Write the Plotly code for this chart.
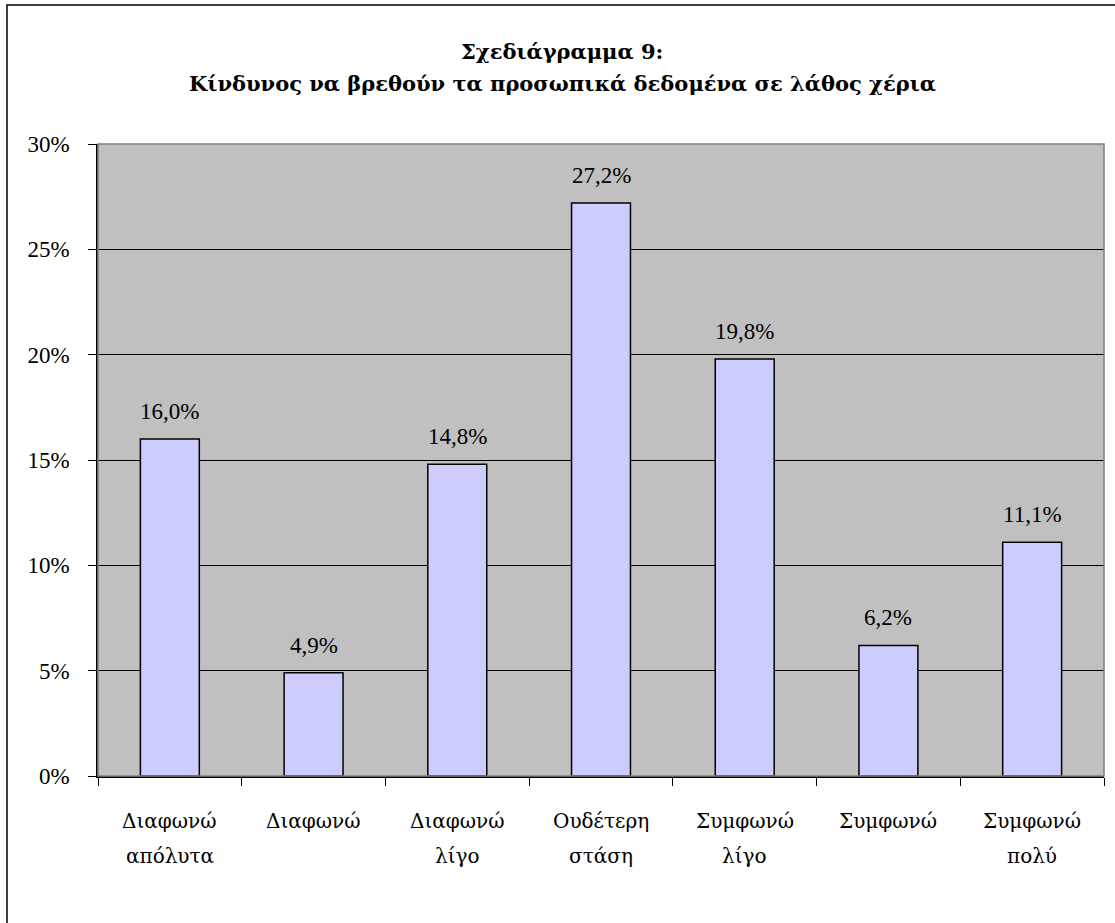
import plotly.graph_objects as go

# Survey responses (two-line labels) and their shares (%)
label_line1 = ["Διαφωνώ", "Διαφωνώ", "Διαφωνώ", "Ουδέτερη", "Συμφωνώ", "Συμφωνώ", "Συμφωνώ"]
label_line2 = ["απόλυτα", "", "λίγο", "στάση", "λίγο", "", "πολύ"]
values = [16.0, 4.9, 14.8, 27.2, 19.8, 6.2, 11.1]
y_ticks = [0, 5, 10, 15, 20, 25, 30]
y_tick_labels = ["0%", "5%", "10%", "15%", "20%", "25%", "30%"]
title_lines = ["Σχεδιάγραμμα 9:", "Κίνδυνος να βρεθούν τα προσωπικά δεδομένα σε λάθος χέρια"]

categories = [f"{a} {b}".strip() for a, b in zip(label_line1, label_line2)]

FONT = "Liberation Serif"
GREEK_FONT = "DejaVu Serif"
W, H = 1115, 923
L, R, T, B = 98, 11, 144, 147
plot_w = W - L - R
plot_h = H - T - B
AXIS_Y = H - B  # pixel row of the category axis


def paper_y(py):
    """Convert a pixel row to a paper y coordinate."""
    return (AXIS_Y - py) / plot_h


fig = go.Figure()
fig.add_trace(go.Bar(
    x=categories, y=values,
    marker=dict(color="#CCCCFF", line=dict(color="black", width=1.5)),
    hoverinfo="skip",
))

# value labels above the bars
for c, v in zip(categories, values):
    fig.add_annotation(
        x=c, y=v, text=f"{v:.1f}%".replace(".", ","),
        showarrow=False, yanchor="bottom", yshift=13,
        font=dict(family=FONT, size=23, color="black"),
    )

# category labels, one annotation per line for wider line spacing
for c, a, b in zip(categories, label_line1, label_line2):
    for txt, py in ((a, 821), (b, 856)):
        if txt:
            fig.add_annotation(
                x=c, xref="x", y=paper_y(py), yref="paper", text=txt,
                showarrow=False, yanchor="middle",
                font=dict(family=GREEK_FONT, size=20, color="black"),
            )

# two-line chart title
for txt, py in zip(title_lines, (52, 84)):
    fig.add_annotation(
        x=(562 - L) / plot_w, xref="paper", y=paper_y(py), yref="paper",
        text=f"<b>{txt}</b>", showarrow=False, xanchor="center", yanchor="middle",
        font=dict(family=GREEK_FONT, size=21, color="black"),
    )

# outer chart border (right and bottom edges fall outside the page)
fig.add_shape(
    type="rect", xref="paper", yref="paper",
    x0=(7 - L) / plot_w, x1=(W + 10 - L) / plot_w,
    y0=paper_y(H + 10), y1=paper_y(5),
    line=dict(color="black", width=1.5), layer="below",
)
# plot area frame
fig.add_shape(
    type="rect", xref="paper", yref="paper", x0=0, x1=1, y0=0, y1=1,
    line=dict(color="#808080", width=1.5), layer="above",
)

fig.update_layout(
    width=W, height=H,
    margin=dict(l=L, r=R, t=T, b=B),
    paper_bgcolor="white", plot_bgcolor="#C0C0C0",
    bargap=0.59, showlegend=False,
    font=dict(family=FONT, color="black"),
    xaxis=dict(
        type="category", tickson="boundaries", ticks="outside", ticklen=8,
        tickcolor="black", showline=True, linecolor="black", linewidth=1.5,
        showgrid=False, showticklabels=False,
    ),
    yaxis=dict(
        range=[0, 30], tickvals=y_ticks, ticktext=y_tick_labels,
        ticks="outside", ticklen=8, tickcolor="black",
        showline=True, linecolor="black", linewidth=1.5,
        showgrid=True, gridcolor="black", gridwidth=1, zeroline=False,
        tickfont=dict(family=FONT, size=23, color="black"),
        ticklabelstandoff=14,
    ),
)

fig.write_html("out.html")
